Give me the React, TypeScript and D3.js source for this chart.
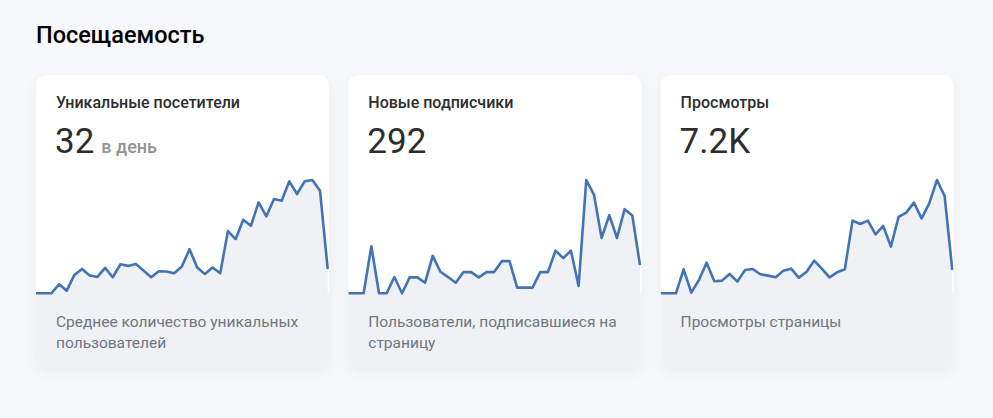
import React from "react";
import * as d3 from "d3";

const pageTitle = "Посещаемость";
const cardTitles = ["Уникальные посетители", "Новые подписчики", "Просмотры"];
const cardValues = ["32", "292", "7.2K"];
const cardUnits = ["в день", "", ""];
const cardFooters = [
  ["Среднее количество уникальных", "пользователей"],
  ["Пользователи, подписавшиеся на", "страницу"],
  ["Просмотры страницы"],
];

const visitors = [0, 0, 0, 27, 8, 55, 73, 53, 49, 76, 48, 87, 82, 88, 68, 48, 66, 65, 60, 80, 132, 77, 58, 77, 60, 186, 162, 220, 202, 272, 230, 282, 277, 335, 297, 335, 339, 307, 72];
const subscribers = [0, 0, 0, 142, 0, 0, 49, 0, 48, 48, 32, 113, 65, 49, 32, 64, 64, 48, 64, 64, 97, 97, 17, 17, 17, 64, 64, 129, 106, 129, 22, 342, 298, 167, 236, 167, 254, 235, 85];
const views = [0, 0, 0, 72, 2, 40, 92, 36, 38, 58, 35, 70, 73, 57, 53, 48, 68, 74, 47, 64, 98, 74, 48, 63, 72, 218, 208, 218, 177, 202, 140, 229, 242, 272, 225, 270, 340, 292, 70];

const series = [visitors, subscribers, views];

const W = 993;
const H = 418;
const cardW = 293;
const cardGap = 19.3;
const cardTop = 75;
const cardH = 293;
const FONT = "Roboto, 'Noto Sans', sans-serif";

function Card({ i }: { i: number }) {
  const x0 = 36 + i * (cardW + cardGap);
  const data = series[i];
  const xs = d3.scaleLinear().domain([0, data.length - 1]).range([x0, x0 + cardW - 1.3]);
  const ys = d3.scaleLinear().domain([0, d3.max(data) as number]).range([293.3, 180]);
  const line = d3.line<number>().x((_, j) => xs(j)).y((d) => ys(d));
  const area = d3
    .area<number>()
    .x((_, j) => xs(j))
    .y0(cardTop + cardH)
    .y1((d) => ys(d));
  const clipId = `clip${i}`;
  return (
    <g>
      <defs>
        <clipPath id={clipId}>
          <rect x={x0} y={cardTop} width={cardW} height={cardH} rx={10} />
        </clipPath>
      </defs>
      <rect x={x0} y={cardTop} width={cardW} height={cardH} rx={10} fill="#ffffff" filter="url(#shadow)" />
      <g clipPath={`url(#${clipId})`}>
        <path d={area(data) as string} fill="#f0f1f5" />
        <rect x={x0} y={293.3} width={cardW} height={cardH} fill="#f0f1f5" />
        <path d={line(data) as string} fill="none" stroke="#4274b5" strokeWidth={2.6} strokeLinejoin="round" />
      </g>
      <text x={x0 + 20} y={108.3} fontFamily={FONT} fontSize={16} fontWeight={500} fill="#2c2d2e">
        {cardTitles[i]}
      </text>
      <text x={x0 + 19} y={153.3} fontFamily={FONT} fontSize={35} fontWeight={400} fill="#2c2d2e">
        {cardValues[i]}
        {cardUnits[i] ? (
          <tspan dx={7} fontSize={18} fontWeight={500} fill="#939393">
            {cardUnits[i]}
          </tspan>
        ) : null}
      </text>
      {cardFooters[i].map((t, k) => (
        <text key={k} x={x0 + 20} y={326.7 + k * 21.6} fontFamily={FONT} fontSize={15.5} fill="#6d7580">
          {t}
        </text>
      ))}
    </g>
  );
}

export default function App() {
  return (
    <svg width={W} height={H} style={{ position: "absolute", left: 0, top: 0 }}>
      <defs>
        <filter id="shadow" x="-10%" y="-10%" width="120%" height="130%">
          <feDropShadow dx={0} dy={4} stdDeviation={6} floodColor="#000" floodOpacity={0.05} />
        </filter>
      </defs>
      <rect x={0} y={0} width={W} height={H} fill="#f7f8fa" />
      <text x={36} y={43.3} fontFamily={FONT} fontSize={23.5} fontWeight={500} fill="#000">
        {pageTitle}
      </text>
      {series.map((_, i) => (
        <Card key={i} i={i} />
      ))}
    </svg>
  );
}
